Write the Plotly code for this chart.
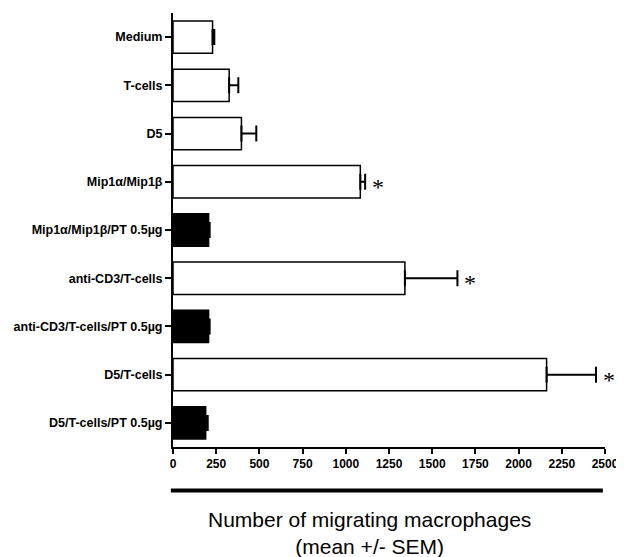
import plotly.graph_objects as go

# Conditions, top to bottom
conditions = [
    "Medium",
    "T-cells",
    "D5",
    "Mip1α/Mip1β",
    "Mip1α/Mip1β/PT 0.5µg",
    "anti-CD3/T-cells",
    "anti-CD3/T-cells/PT 0.5µg",
    "D5/T-cells",
    "D5/T-cells/PT 0.5µg",
]
means = [229, 325, 396, 1084, 206, 1342, 206, 2162, 189]
sems = [10, 53, 86, 28, 6, 304, 6, 286, 12]
treated_pt = [False, False, False, False, True, False, True, False, True]
significant = [False, False, False, True, False, True, False, True, False]

x_ticks = list(range(0, 2501, 250))

bar_colors = ["black" if pt else "white" for pt in treated_pt]

fig = go.Figure()

fig.add_trace(go.Bar(
    y=conditions,
    x=means,
    orientation="h",
    width=0.67,
    marker=dict(color=bar_colors, line=dict(color="black", width=1.5)),
    error_x=dict(
        type="data",
        symmetric=False,
        array=sems,
        arrayminus=[0] * len(sems),
        color="black",
        thickness=2,
        width=8,
    ),
    showlegend=False,
))

# Significance stars next to the error caps
for cond, m, s, sig in zip(conditions, means, sems, significant):
    if sig:
        fig.add_annotation(
            x=m + s, y=cond, xref="x", yref="y",
            text="*", showarrow=False,
            xanchor="left", yanchor="middle",
            xshift=5, yshift=-5,
            font=dict(family="Liberation Serif", size=24, color="black"),
        )

# Thick rule above the axis title
fig.add_shape(
    type="line", xref="paper", yref="paper",
    x0=-0.005, x1=0.995, y0=-0.1, y1=-0.1,
    line=dict(color="black", width=4),
)

fig.add_annotation(
    text="Number of migrating macrophages<br>(mean +/- SEM)",
    xref="paper", yref="paper", x=0.455, y=-0.135,
    xanchor="center", yanchor="top", showarrow=False,
    font=dict(family="Liberation Sans", size=21, color="black"),
)

# page body adds an 8px offset, so the figure is sized to the visible area
fig.update_layout(
    width=616,
    height=549,
    paper_bgcolor="white",
    plot_bgcolor="white",
    margin=dict(l=165, r=15, t=5, b=110),
    font=dict(family="Liberation Sans", color="black"),
    xaxis=dict(
        range=[0, 2500],
        tickvals=x_ticks,
        ticks="outside", ticklen=5, tickwidth=2, tickcolor="black",
        showline=True, linewidth=2, linecolor="black",
        showgrid=False, zeroline=False,
        tickfont=dict(size=12, weight="bold"),
    ),
    yaxis=dict(
        categoryorder="array",
        categoryarray=conditions,
        autorange="reversed",
        ticks="outside", ticklen=6, tickwidth=2, tickcolor="black",
        showline=True, linewidth=2, linecolor="black",
        showgrid=False, zeroline=False,
        tickfont=dict(size=12.5, weight="bold"),
    ),
)

fig.write_html("out.html")
